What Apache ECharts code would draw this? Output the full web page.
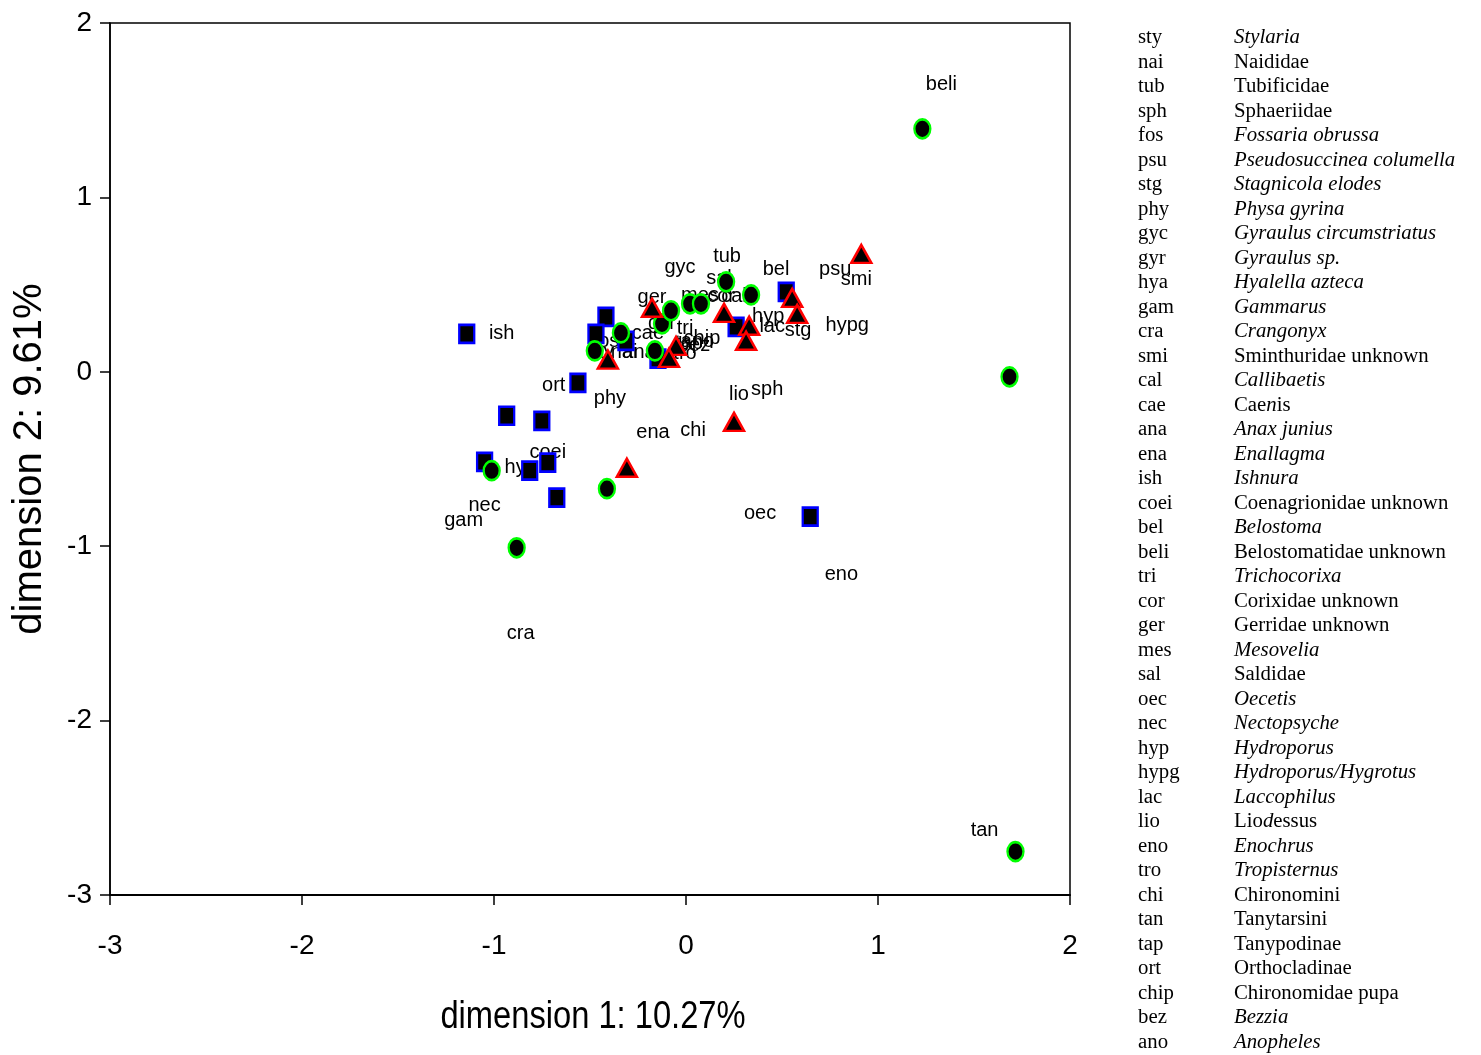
<!DOCTYPE html>
<html>
<head>
<meta charset="utf-8">
<script src="https://cdn.jsdelivr.net/npm/echarts@6/dist/echarts.min.js"></script>
<style>
html,body{margin:0;padding:0;background:#fff;}
#chart{width:1481px;height:1055px;}
</style>
</head>
<body>
<div id="chart"></div>
<script>
// ---- data ----
const xTicks = [-3, -2, -1, 0, 1, 2];
const yTicks = [-3, -2, -1, 0, 1, 2];

// sample scores, group A (blue squares)
const squaresX = [-1.142, -0.417, -0.469, -0.313, -0.563, -0.934, -0.751, -1.049, -0.814, -0.720, -0.673, -0.146, 0.261, 0.522, 0.647];
const squaresY = [0.218, 0.315, 0.218, 0.178, -0.063, -0.252, -0.281, -0.516, -0.567, -0.521, -0.722, 0.075, 0.258, 0.458, -0.831];

// group B (green circles)
const circlesX = [1.231, 1.685, 1.716, -1.012, -0.882, -0.412, -0.475, -0.339, -0.162, -0.125, -0.078, 0.021, 0.078, 0.209, 0.339];
const circlesY = [1.393, -0.029, -2.751, -0.567, -1.009, -0.670, 0.120, 0.223, 0.120, 0.275, 0.350, 0.390, 0.390, 0.516, 0.441];

// group C (red triangles)
const trianglesX = [0.913, -0.407, -0.308, 0.250, -0.177, -0.052, -0.089, 0.198, 0.329, 0.313, 0.553, 0.579];
const trianglesY = [0.676, 0.070, -0.550, -0.287, 0.367, 0.149, 0.080, 0.338, 0.264, 0.178, 0.424, 0.332];

// species scores (text labels)
const speciesCodes = ['beli','tub','gyc','sal','bel','psu','smi','ger','mes','cor','cal','hyp','lac','stg','hypg','ish','fos','sty','nai','ana','cae','gyr','tri','chip','tap','bez','ano','tro','ort','phy','lio','sph','ena','chi','coei','hya','nec','gam','oec','eno','cra','tan'];
const speciesX = [1.330, 0.214, -0.031, 0.172, 0.469, 0.777, 0.887, -0.177, 0.073, 0.183, 0.250, 0.428, 0.449, 0.584, 0.840, -0.960, -0.417, -0.443, -0.323, -0.245, -0.198, -0.125, -0.005, 0.083, 0.016, 0.042, 0.060, -0.005, -0.689, -0.396, 0.276, 0.423, -0.172, 0.037, -0.720, -0.861, -1.049, -1.158, 0.386, 0.809, -0.861, 1.555];
const speciesY = [1.650, 0.659, 0.596, 0.533, 0.585, 0.585, 0.527, 0.424, 0.436, 0.430, 0.430, 0.315, 0.258, 0.235, 0.264, 0.218, 0.172, 0.109, 0.109, 0.109, 0.218, 0.275, 0.246, 0.189, 0.160, 0.149, 0.175, 0.103, -0.080, -0.155, -0.132, -0.103, -0.350, -0.338, -0.464, -0.550, -0.768, -0.854, -0.814, -1.163, -1.501, -2.630];

// legend table
const legendCodes = ['sty','nai','tub','sph','fos','psu','stg','phy','gyc','gyr','hya','gam','cra','smi','cal','cae','ana','ena','ish','coei','bel','beli','tri','cor','ger','mes','sal','oec','nec','hyp','hypg','lac','lio','eno','tro','chi','tan','tap','ort','chip','bez','ano'];
const legendNames = ['{i|Stylaria}','{n|Naididae}','{n|Tubificidae}','{n|Sphaeriidae}','{i|Fossaria obrussa}','{i|Pseudosuccinea columella}','{i|Stagnicola elodes}','{i|Physa gyrina}','{i|Gyraulus circumstriatus}','{i|Gyraulus sp.}','{i|Hyalella azteca}','{i|Gammarus}','{i|Crangonyx}','{n|Sminthuridae unknown}','{i|Callibaetis}','{n|Cae}{i|n}{n|is}','{i|Anax junius}','{i|Enallagma}','{i|Ishnura}','{n|Coenagrionidae unknown}','{i|Belostoma}','{n|Belostomatidae unknown}','{i|Trichocorixa}','{n|Corixidae unknown}','{n|Gerridae unknown}','{i|Mesovelia}','{n|Saldidae}','{i|Oecetis}','{i|Nectopsyche}','{i|Hydroporus}','{i|Hydroporus/Hygrotus}','{i|Laccophilus}','{n|Lio}{i|d}{n|essus}','{i|Enochrus}','{i|Tropisternus}','{n|Chironomini}','{n|Tanytarsini}','{n|Tanypodinae}','{n|Orthocladinae}','{n|Chironomidae pupa}','{i|Bezzia}','{i|Anopheles}'];

const xTitle = 'dimension 1: 10.27%';
const yTitle = 'dimension 2: 9.61%';

// ---- build ----
function zip(xs, ys){ return xs.map((x,i)=>[x, ys[i]]); }
const serif = "'Liberation Serif','Times New Roman',serif";
const sans = "'Liberation Sans',Arial,sans-serif";

const graphics = [];
const rowH = 24.5, row0 = 38.5;
legendCodes.forEach((c, i) => {
  graphics.push({type:'text', left:1138, top: row0 + i*rowH - 11,
    style:{text:c, font:'20.8px ' + serif, fill:'#000'}, silent:true});
  graphics.push({type:'text', left:1234, top: row0 + i*rowH - 11,
    style:{text:legendNames[i], fill:'#000',
      rich:{ i:{fontFamily:serif, fontStyle:'italic', fontSize:20.8, fill:'#000'},
             n:{fontFamily:serif, fontSize:20.8, fill:'#000'} }}, silent:true});
});
// x-axis title (horizontally condensed as in the original)
graphics.push({type:'text', x:593, y:1018, scaleX:0.86, silent:true,
  style:{text:xTitle, font:'38px ' + sans, fill:'#000', textAlign:'center', textVerticalAlign:'middle'}});

const chart = echarts.init(document.getElementById('chart'), null, {renderer:'canvas'});
chart.setOption({
  animation:false,
  backgroundColor:'#fff',
  grid:{left:110, right:411, top:23, bottom:160, show:true, borderColor:'#000', borderWidth:1.5, backgroundColor:'transparent'},
  xAxis:{type:'value', min:xTicks[0], max:xTicks[xTicks.length-1], interval:1,
    splitLine:{show:false},
    axisLine:{show:true, onZero:false, lineStyle:{color:'#000', width:2}},
    axisTick:{show:true, inside:false, length:10, lineStyle:{color:'#000', width:1.5}},
    axisLabel:{color:'#000', fontSize:28, fontFamily:sans, margin:37}},
  yAxis:{type:'value', min:yTicks[0], max:yTicks[yTicks.length-1], interval:1,
    splitLine:{show:false},
    axisLine:{show:true, onZero:false, lineStyle:{color:'#000', width:1.5}},
    axisTick:{show:true, inside:false, length:10, lineStyle:{color:'#000', width:1.5}},
    axisLabel:{color:'#000', fontSize:28, fontFamily:sans, margin:18},
    name:yTitle, nameLocation:'middle', nameGap:60,
    nameTextStyle:{color:'#000', fontSize:40, fontFamily:sans}},
  graphic: graphics,
  series:[
    {type:'scatter', name:'labels', z:1, silent:true, symbolSize:0,
      itemStyle:{opacity:1},
      data: speciesCodes.map((c,i)=>({name:c, value:[speciesX[i], speciesY[i]]})),
      label:{show:true, position:'inside', formatter:p=>p.name, color:'#000', opacity:1, textBorderWidth:0, textBorderColor:'transparent', fontSize:20, fontFamily:sans}},
    {type:'scatter', name:'A', z:3, symbol:'rect', symbolSize:[15,18],
      itemStyle:{color:'#000', borderColor:'#0000ff', borderWidth:2.5, opacity:1},
      data: zip(squaresX, squaresY)},
    {type:'scatter', name:'B', z:3, symbol:'circle', symbolSize:[16,19],
      itemStyle:{color:'#000', borderColor:'#00ff00', borderWidth:2.5, opacity:1},
      data: zip(circlesX, circlesY)},
    {type:'scatter', name:'C', z:3, symbol:'triangle', symbolSize:[20,18],
      itemStyle:{color:'#000', borderColor:'#ff0000', borderWidth:2.5, opacity:1},
      data: zip(trianglesX, trianglesY)}
  ]
});
</script>
</body>
</html>
